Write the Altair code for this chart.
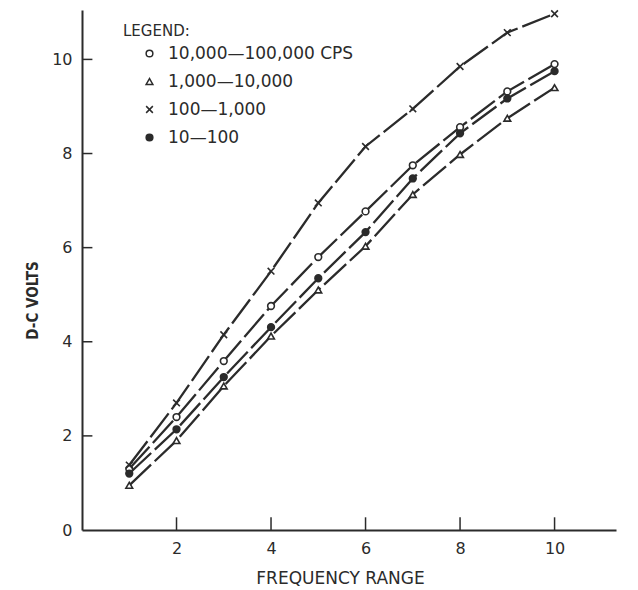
import altair as alt
import pandas as pd

# ---- data ----
freq_range = [1, 2, 3, 4, 5, 6, 7, 8, 9, 10]
series_names = ["10,000\u2014100,000 CPS", "1,000\u201410,000", "100\u20141,000", "10\u2014100"]
volts_10k_100k = [1.30, 2.40, 3.59, 4.76, 5.80, 6.77, 7.75, 8.56, 9.32, 9.90]
volts_1k_10k = [0.95, 1.90, 3.06, 4.12, 5.10, 6.03, 7.13, 7.98, 8.75, 9.40]
volts_100_1k = [1.38, 2.70, 4.15, 5.50, 6.95, 8.15, 8.95, 9.85, 10.57, 10.97]
volts_10_100 = [1.20, 2.14, 3.25, 4.31, 5.35, 6.33, 7.47, 8.43, 9.17, 9.75]
y_tick_values = [0, 2, 4, 6, 8, 10]
x_tick_values = [2, 4, 6, 8, 10]

rows = []
for name, vals in zip(series_names, [volts_10k_100k, volts_1k_10k, volts_100_1k, volts_10_100]):
    for f, v in zip(freq_range, vals):
        rows.append({"freq": f, "volts": v, "series": name})
df = pd.DataFrame(rows)

ink = "#2b2b2b"
font = "DejaVu Sans"

x_scale = alt.Scale(domain=[0, 11.3], nice=False, zero=False)
y_scale = alt.Scale(domain=[0, 11.05], nice=False, zero=False)

x_enc = alt.X(
    "freq:Q", scale=x_scale,
    axis=alt.Axis(values=x_tick_values, ticks=False, grid=False, domainColor=ink, domainWidth=2,
                  labelFont=font, labelFontSize=16, labelColor=ink, labelPadding=10,
                  title="FREQUENCY RANGE", titleFont=font, titleFontSize=17, titleFontWeight="normal",
                  titleColor=ink, titleX=258, titleY=48, titleBaseline="middle", titleAlign="center"),
)
y_enc = alt.Y(
    "volts:Q", scale=y_scale,
    axis=alt.Axis(values=y_tick_values, ticks=False, grid=False, domainColor=ink, domainWidth=2,
                  labelFont=font, labelFontSize=16, labelColor=ink, labelPadding=10,
                  title="D-C VOLTS", titleFont="DejaVu Sans Condensed", titleFontSize=15,
                  titleFontWeight="bold", titleColor=ink, titleX=-50, titleY=290,
                  titleBaseline="middle", titleAlign="center"),
)

x_path = "M-1,-1L1,1M1,-1L-1,1"
shape_scale = alt.Scale(domain=series_names, range=["circle", "triangle-up", x_path, "circle"])
fill_scale = alt.Scale(domain=series_names, range=["white", "white", "white", ink])
stroke_scale = alt.Scale(domain=series_names, range=[ink, ink, ink, ink])

legend = alt.Legend(
    orient="none", legendX=41, legendY=14, title="LEGEND:", titleFont=font, titleFontSize=15,
    titleFontWeight="normal", titleColor=ink, titlePadding=6, labelFont=font, labelFontSize=17,
    labelColor=ink, labelLimit=400, rowPadding=10, symbolStrokeColor=ink, symbolStrokeWidth=1.5,
    symbolSize=45, symbolOffset=18, labelOffset=10,
)

lines = alt.Chart(df).mark_line(
    color=ink, strokeWidth=2.3, strokeDash=[30, 5]
).encode(x=x_enc, y=y_enc, detail="series:N")

points = alt.Chart(df).mark_point(filled=True, strokeWidth=1.6, opacity=1, size=45).encode(
    x=alt.X("freq:Q", scale=x_scale),
    y=alt.Y("volts:Q", scale=y_scale),
    shape=alt.Shape("series:N", scale=shape_scale, legend=legend),
    fill=alt.Fill("series:N", scale=fill_scale, legend=legend),
    stroke=alt.Stroke("series:N", scale=stroke_scale, legend=legend),
)

ytick_df = pd.DataFrame({"v": [t for t in y_tick_values if t > 0]})
xtick_df = pd.DataFrame({"v": x_tick_values})

y_ticks = alt.Chart(ytick_df).mark_rule(color=ink, strokeWidth=1.5).encode(
    x=alt.datum(0, scale=x_scale), x2=alt.datum(0.22), y=alt.Y("v:Q", scale=y_scale)
)
x_ticks = alt.Chart(xtick_df).mark_rule(color=ink, strokeWidth=1.5).encode(
    x=alt.X("v:Q", scale=x_scale), y=alt.datum(0, scale=y_scale), y2=alt.datum(0.27)
)

chart = alt.layer(y_ticks, x_ticks, lines, points).properties(
    width=534, height=520,
    autosize=alt.AutoSizeParams(type="none"),
    padding={"left": 74, "top": 2, "right": 14, "bottom": 58},
).configure_view(stroke=None)

chart.save("out.html", embed_options={"renderer": "svg", "actions": False})
